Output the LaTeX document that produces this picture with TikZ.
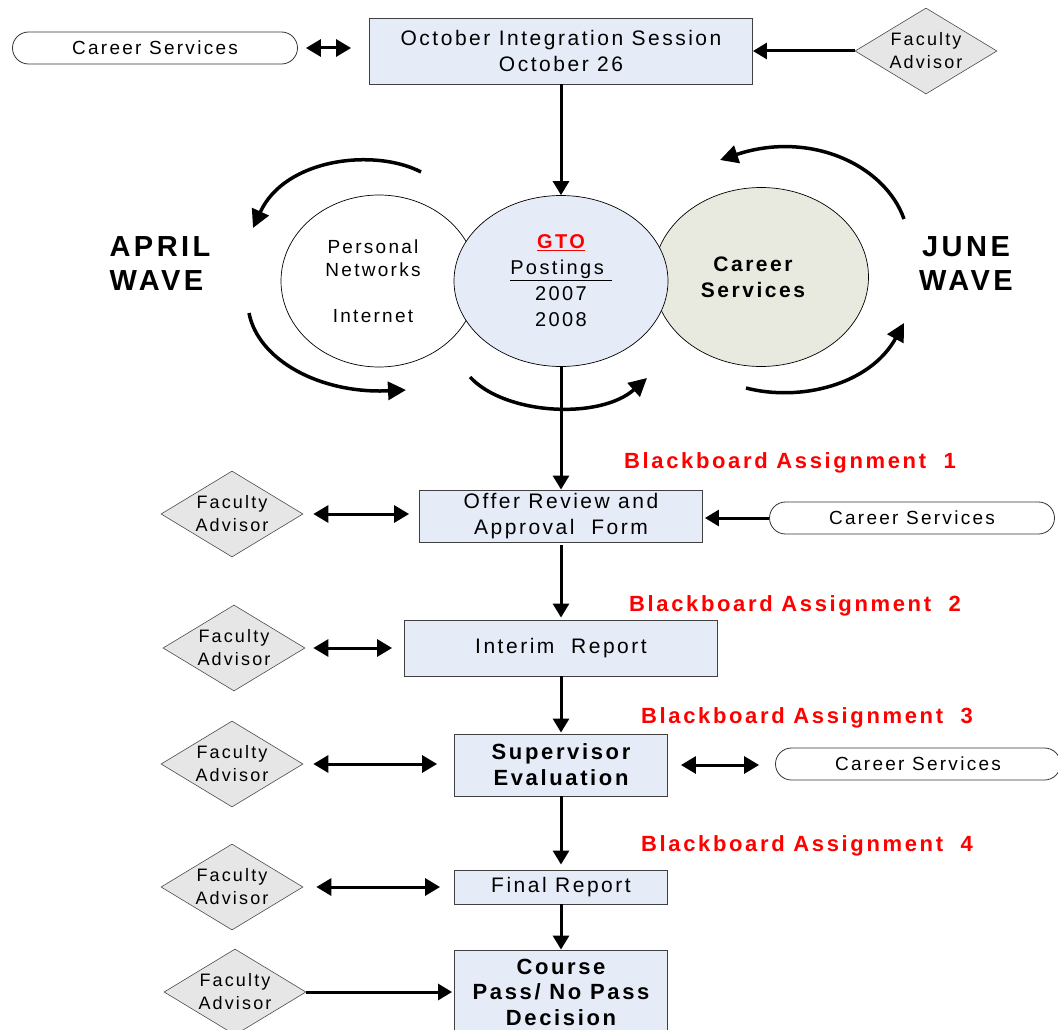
\documentclass[tikz,border=0pt]{standalone}
\usepackage{fontspec}
\setmainfont{Liberation Sans}[LetterSpace=12]
\usetikzlibrary{shapes.geometric,shapes.misc,arrows.meta}
\definecolor{boxblue}{HTML}{E6ECF7}
\definecolor{csgreen}{HTML}{E9EADF}
\definecolor{diagray}{HTML}{E6E6E6}
\definecolor{bbred}{HTML}{FF0000}
\newcommand{\fs}[2]{\fontsize{#1}{#2}\selectfont}
\begin{document}
\begin{tikzpicture}[x=1pt,y=-1pt,
  box/.style={draw=black!75, fill=boxblue, line width=0.9pt, inner sep=0pt, align=center},
  pill/.style={rounded rectangle, draw=black!80, fill=white, line width=0.8pt, minimum width=285pt, minimum height=32pt, inner sep=0pt, font=\fs{19}{22}},
  fad/.style={diamond, draw=black!70, fill=diagray, minimum width=142pt, minimum height=86pt, inner sep=0pt, line width=0.6pt,
     label={[font=\fs{18}{23}, align=center]center:Faculty\\Advisor}},
  arr/.style={line width=3pt, -{Triangle[length=14pt,width=16pt]}},
  dbl/.style={line width=3pt, {Triangle[length=15pt,width=17pt]}-{Triangle[length=15pt,width=17pt]}},
  wave/.style={line width=3.5pt, -{Triangle[length=18pt,width=18pt]}},
  bb/.style={text=bbred, font=\fs{22}{25}\bfseries},
  circ/.style={ellipse, draw=black, line width=0.7pt, inner sep=0pt, align=center}
]
\useasboundingbox (0,0) rectangle (1058,1030);
\clip (0,0) rectangle (1058,1030);

% top row
\node[box, minimum width=383pt, minimum height=66pt, font=\fs{21}{26}] (oct) at (561,51) {October Integration Session\\October 26};
\node[pill] (cs0) at (155,48) {Career Services};
\node[fad] (fa0) at (926,51) {};

% circles
\node[circ, fill=white, minimum width=196pt, minimum height=172pt,
  label={[xshift=-6pt, font=\fs{19}{23}, align=center]center:Personal\\Networks\\[23pt]Internet}] (pn) at (379,281) {};
\node[circ, fill=csgreen, minimum width=215pt, minimum height=179pt,
  label={[xshift=-8pt, font=\fs{21}{26}\bfseries, align=center]center:Career\\Services}] (csc) at (761,277) {};
\node[circ, fill=boxblue, minimum width=214pt, minimum height=171pt, font=\fs{20}{26}] (gto) at (561,281) {{\bfseries\color{bbred}\underline{GTO}}\\\underline{Postings\ }\\2007\\2008};

\node[anchor=west, align=left, font=\fs{29}{34}\bfseries] (april) at (106,264) {APRIL\\WAVE};
\node[align=center, font=\fs{29}{34}\bfseries] (june) at (966,264) {JUNE\\WAVE};

% wave arrows
\draw[wave] (421,172) .. controls (375,148) and (285,158) .. (253,228);
\draw[wave] (249,313) .. controls (258,360) and (320,394) .. (406,390);
\draw[wave] (470,377) .. controls (505,415) and (600,420) .. (647,378);
\draw[wave] (746,388) .. controls (800,402) and (870,385) .. (904,323);
\draw[wave] (904,219) .. controls (885,165) and (810,130) .. (720,160);

% flow boxes
\node[box, minimum width=283pt, minimum height=52pt, font=\fs{21}{26}] (offer) at (561,516) {Offer Review and\\Approval\ \ Form};
\node[box, minimum width=313pt, minimum height=56pt, font=\fs{21}{26}] (interim) at (561,648) {Interim\ \ Report};
\node[box, minimum width=213pt, minimum height=62pt, font=\fs{22}{26}\bfseries] (sup) at (561,765) {Supervisor\\Evaluation};
\node[box, minimum width=213pt, minimum height=34pt, font=\fs{21}{26}] (final) at (561,887) {Final Report};
\node[box, minimum width=213pt, minimum height=84pt, font=\fs{22}{25.5}\bfseries] (course) at (561,992) {Course\\Pass/ No Pass\\Decision};

\node[fad] (fa1) at (232,514) {};
\node[fad] (fa2) at (234,648) {};
\node[fad] (fa3) at (232,764) {};
\node[fad] (fa4) at (232,887) {};
\node[fad] (fa5) at (235,992) {};

\node[pill] (cs1) at (912,518) {Career Services};
\node[pill] (cs3) at (918,764) {Career Services};

\node[bb] (bb1) at (790,463) {Blackboard Assignment\ \ 1};
\node[bb] (bb2) at (795,606) {Blackboard Assignment\ \ 2};
\node[bb] (bb3) at (807,718) {Blackboard Assignment\ \ 3};
\node[bb] (bb4) at (807,846) {Blackboard Assignment\ \ 4};

% connectors
\draw[dbl, shorten <=8pt, shorten >=18pt] (cs0.east) -- (cs0.east -| oct.west);
\draw[arr] (fa0.west) -- (oct.east);
\draw[arr] (oct) -- (gto);
\draw[arr] (gto) -- (offer);
\draw[dbl, shorten <=10pt, shorten >=10pt] (fa1.east) -- (fa1.east -| offer.west);
\draw[arr, shorten >=2pt] (cs1.west) -- (cs1.west -| offer.east);
\draw[arr, shorten <=3pt, shorten >=2pt] (offer) -- (interim);
\draw[dbl, shorten <=8pt, shorten >=12pt] (fa2.east) -- (fa2.east -| interim.west);
\draw[arr, shorten >=1pt] (interim) -- (sup);
\draw[dbl, shorten <=10pt, shorten >=17pt] (fa3.east) -- (fa3.east -| sup.west);
\draw[dbl, shorten <=13pt, shorten >=16pt] (sup.east) -- (sup.east -| cs3.west);
\draw[arr, shorten >=5pt] (sup) -- (final);
\draw[dbl, shorten <=13pt, shorten >=14pt] (fa4.east) -- (fa4.east -| final.west);
\draw[arr] (final) -- (course);
\draw[arr, shorten >=2pt] (fa5.east) -- (fa5.east -| course.west);
\end{tikzpicture}
\end{document}
